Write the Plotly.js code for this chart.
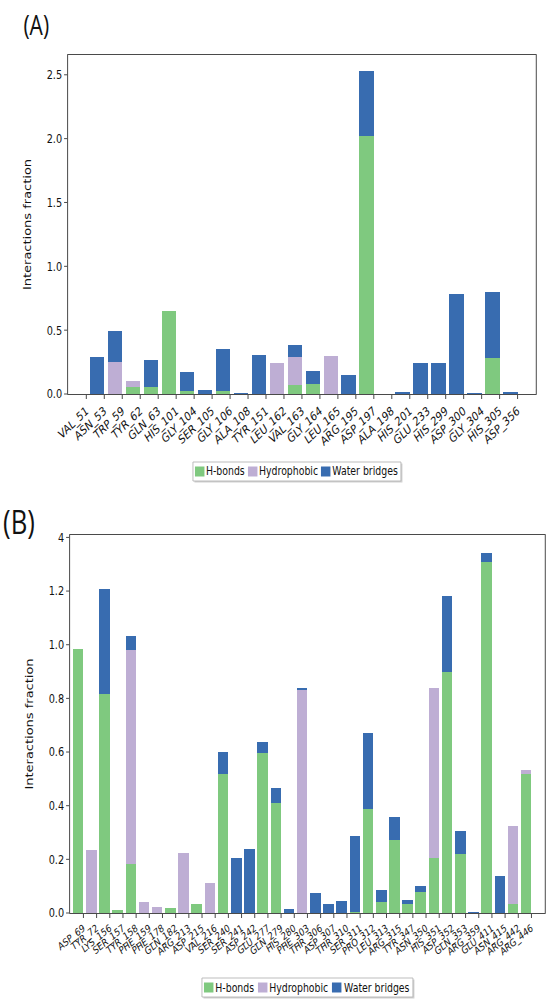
<!DOCTYPE html>
<html>
<head>
<meta charset="utf-8">
<script src="https://cdn.plot.ly/plotly-3.0.1.min.js"></script>
<style>
  html, body { margin: 0; padding: 0; background: #fff; overflow: hidden; }
  #wrap { width: 550px; height: 1002px; overflow: hidden; }
  #chart { width: 705px; height: 1002px; transform: scaleX(0.78); transform-origin: 0 0; }
</style>
</head>
<body>
<div id="wrap"><div id="chart"></div></div>
<script>
// ---- Panel A data ----
const residuesA = ["VAL_51","ASN_53","TRP_59","TYR_62","GLN_63","HIS_101","GLY_104","SER_105","GLY_106","ALA_108","TYR_151","LEU_162","VAL_163","GLY_164","LEU_165","ARG_195","ASP_197","ALA_198","HIS_201","GLU_233","HIS_299","ASP_300","GLY_304","HIS_305","ASP_356"];
const hbondsA      = [0,0,0,0.052,0.055,0.65,0.02,0,0.026,0,0,0,0.068,0.078,0,0,2.022,0,0,0,0,0,0,0.282,0];
const hydrophobicA = [0,0,0.25,0.05,0,0,0,0,0,0,0,0.245,0.224,0,0.30,0,0,0,0,0,0,0,0,0,0];
const waterA       = [0,0.29,0.243,0,0.209,0,0.152,0.029,0.326,0.01,0.305,0,0.089,0.102,0,0.149,0.507,0,0.013,0.245,0.245,0.78,0.01,0.518,0.016];

// ---- Panel B data ----
const residuesB = ["ASP_69","TYR_72","LYS_156","SER_157","TYR_158","PHE_159","PHE_178","GLN_182","ARG_213","ASP_215","VAL_216","SER_240","SER_241","ASP_242","GLU_277","GLN_279","HIS_280","PHE_303","THR_306","ASP_307","THR_310","SER_311","PRO_312","LEU_313","ARG_315","TYR_347","ASN_350","HIS_351","ASP_352","GLN_353","ARG_359","GLU_411","ASN_415","ARG_442","ARG_446"];
const hbondsB      = [0.984,0,0.815,0.011,0.183,0,0,0.017,0,0.032,0,0.518,0,0,0.598,0.41,0,0,0,0,0,0.005,0.386,0.040,0.272,0.032,0.080,0.204,0.897,0.220,0,1.309,0,0.035,0.518];
const hydrophobicB = [0,0.235,0,0,0.797,0.040,0.021,0,0.224,0,0.111,0,0,0,0,0,0,0.832,0,0,0,0,0,0,0,0,0,0.633,0,0,0,0,0,0.288,0.014];
const waterB       = [0,0,0.394,0,0.052,0,0,0,0,0,0,0.082,0.206,0.239,0.039,0.056,0.015,0.005,0.075,0.035,0.043,0.281,0.284,0.047,0.087,0.015,0.019,0,0.284,0.087,0.003,0.033,0.139,0,0];

const yTicksA = [0, 0.5, 1.0, 1.5, 2.0, 2.5];
const yTicksB = [0, 0.2, 0.4, 0.6, 0.8, 1.0, 1.2, 1.4];
const yTickTextB = ["0.0","0.2","0.4","0.6","0.8","1.0","1.2","4"];
const seriesNames = ["H-bonds", "Hydrophobic", "Water bridges"];
const colors = ["#7fc97f", "#beaed4", "#386cb0"];

const W = 550, H = 1002;
const px = v => v / W;          // horizontal pixel -> paper fraction
const py = v => 1 - v / H;      // vertical pixel -> paper fraction
const idx = n => Array.from({length: n}, (_, i) => i);
const barPos = n => idx(n).map(i => i - 0.4);

function traces(vals, n, xa, ya) {
  return vals.map((v, k) => ({
    type: 'bar', x: barPos(n), y: v, width: 0.8,
    name: seriesNames[k], marker: {color: colors[k], line: {width: 0}},
    xaxis: xa, yaxis: ya, hoverinfo: 'skip', showlegend: false
  }));
}

const data = [
  ...traces([hbondsA, hydrophobicA, waterA], residuesA.length, 'x', 'y'),
  ...traces([hbondsB, hydrophobicB, waterB], residuesB.length, 'x2', 'y2')
];

const tickFont = size => ({family: 'DejaVu Sans, sans-serif', size: size, color: '#111'});
const axCommon = {
  showline: true, mirror: true, linecolor: '#333', linewidth: 1,
  showgrid: false, zeroline: false, ticks: 'outside', ticklen: 4, tickcolor: '#333'
};
const fontTitle = {family: 'DejaVu Sans, sans-serif', size: 13, color: '#111'};

// ---- manual legends (box, shadow, swatches, labels) ----
const shapes = [], annotations = [];
function addLegend(box, swatchX, textX, yTop, yBot) {
  shapes.push({type: 'rect', xref: 'paper', yref: 'paper', layer: 'above',
    x0: px(box[0] + 1.5), x1: px(box[1] + 1.5), y0: py(yBot + 1.5), y1: py(yTop + 1.5),
    fillcolor: '#cfcfcf', line: {width: 0}});
  shapes.push({type: 'rect', xref: 'paper', yref: 'paper', layer: 'above',
    x0: px(box[0]), x1: px(box[1]), y0: py(yBot), y1: py(yTop),
    fillcolor: '#ffffff', line: {color: '#b5b5b5', width: 1}});
  const yc = (yTop + yBot) / 2;
  seriesNames.forEach((nm, k) => {
    shapes.push({type: 'rect', xref: 'paper', yref: 'paper', layer: 'above',
      x0: px(swatchX[k]), x1: px(swatchX[k] + 9.5), y0: py(yc + 5), y1: py(yc - 5),
      fillcolor: colors[k], line: {width: 0}});
    annotations.push({text: nm, xref: 'paper', yref: 'paper', x: px(textX[k]), y: py(yc),
      xanchor: 'left', yanchor: 'middle', showarrow: false, borderpad: 0, borderwidth: 0,
      font: {family: 'DejaVu Sans, sans-serif', size: 12, color: '#111'}});
  });
}
addLegend([193, 401], [195, 248, 321], [206, 259, 332], 462, 481);
addLegend([202, 413], [204, 258, 332], [215, 269, 344], 978, 997);

annotations.push(
  {text: '(A)', xref: 'paper', yref: 'paper', x: px(36.5), y: py(25), xanchor: 'center', yanchor: 'middle',
   showarrow: false, font: {family: 'Open Sans, sans-serif', size: 27, color: '#111'}},
  {text: '(B)', xref: 'paper', yref: 'paper', x: px(19), y: py(521), xanchor: 'center', yanchor: 'middle',
   showarrow: false, font: {family: 'Open Sans, sans-serif', size: 33, color: '#111'}}
);

const layout = {
  width: 705, height: H,
  margin: {l: 0, r: 0, t: 0, b: 0},
  paper_bgcolor: '#fff', plot_bgcolor: '#fff',
  barmode: 'stack', bargap: 0,
  showlegend: false,
  xaxis: Object.assign({}, axCommon, {
    domain: [px(68), px(536)], anchor: 'y',
    range: [-1.02, residuesA.length - 1 + 1.02],
    tickmode: 'array', tickvals: idx(residuesA.length), ticktext: residuesA,
    tickangle: -37, tickfont: tickFont(12.3)
  }),
  yaxis: Object.assign({}, axCommon, {
    domain: [py(394), py(55)], anchor: 'x',
    range: [0, 2.655],
    tickmode: 'array', tickvals: yTicksA, ticktext: yTicksA.map(v => v.toFixed(1)),
    tickfont: tickFont(12.5),
    title: {text: 'Interactions fraction', font: fontTitle, standoff: 16}
  }),
  xaxis2: Object.assign({}, axCommon, {
    domain: [px(70), px(545)], anchor: 'y2',
    range: [-1.02, residuesB.length - 1 + 1.02],
    tickmode: 'array', tickvals: idx(residuesB.length), ticktext: residuesB,
    tickangle: -33, tickfont: tickFont(10.5)
  }),
  yaxis2: Object.assign({}, axCommon, {
    domain: [py(913), py(535)], anchor: 'x2',
    range: [0, 1.409],
    tickmode: 'array', tickvals: yTicksB, ticktext: yTickTextB,
    tickfont: tickFont(12.5),
    title: {text: 'Interactions fraction', font: fontTitle, standoff: 16}
  }),
  shapes: shapes,
  annotations: annotations
};

Plotly.newPlot('chart', data, layout, {staticPlot: true, displayModeBar: false});
</script>
</body>
</html>
